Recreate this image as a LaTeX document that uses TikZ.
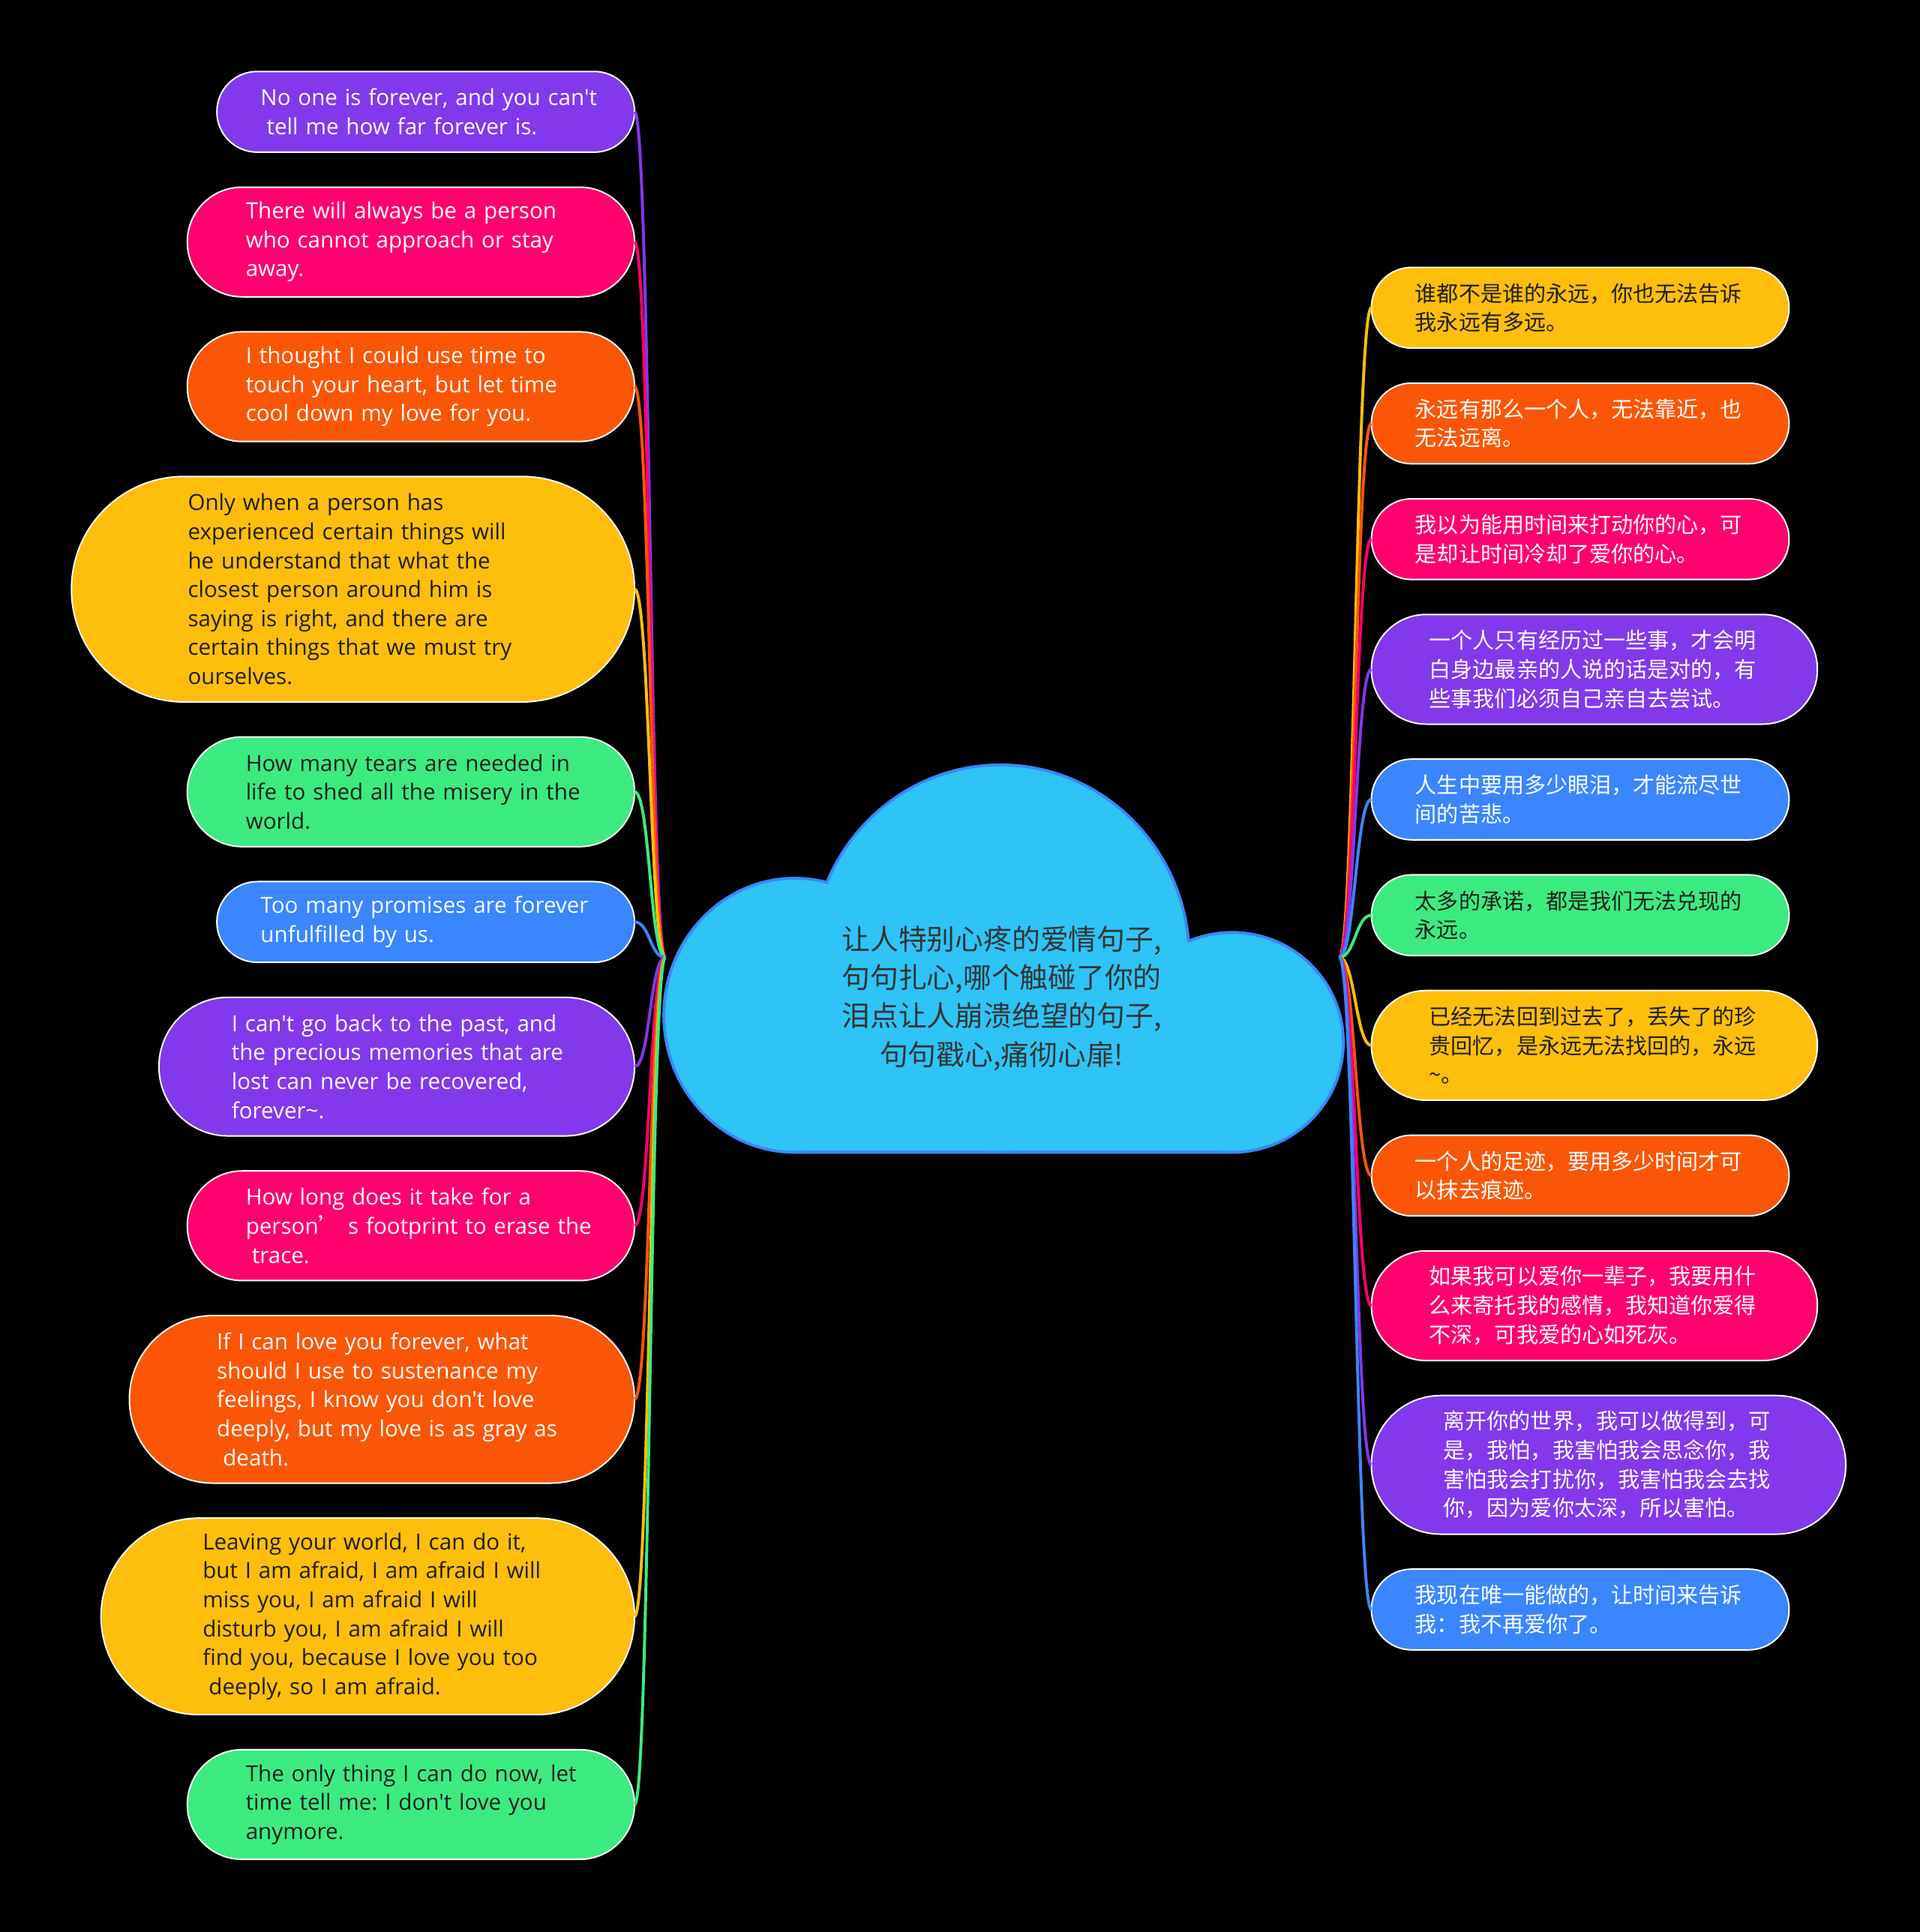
\documentclass[tikz,border=0pt]{standalone}
\usepackage{fontspec}
\setmainfont{Open Sans}[Ligatures=TeXOff]
\newfontfamily\cjk{Noto Sans CJK SC}
\usepackage{tikz}
\usetikzlibrary{positioning}

\definecolor{cpurple}{HTML}{8338EC}
\definecolor{cpink}{HTML}{FF006E}
\definecolor{corange}{HTML}{FB5607}
\definecolor{cyellow}{HTML}{FFBE0B}
\definecolor{cgreen}{HTML}{3CEB80}
\definecolor{cblue}{HTML}{3A86FF}
\definecolor{ccloud}{HTML}{2EC4F6}
\definecolor{textdark}{HTML}{1E1E1E}
\definecolor{textgray}{HTML}{333333}

\newcommand{\ind}{\hspace*{2.5pt}}
\frenchspacing

\begin{document}
\begin{tikzpicture}[x=0.5pt, y=-0.5pt,
leafnode/.style={rectangle, draw=white, line width=0.6pt, outer sep=0pt, text=white, inner xsep=2pt, inner ysep=2pt, text width=134pt, align=left, font=\fontsize{9}{11.75}\selectfont},
cnnode/.style={leafnode, font=\cjk\fontsize{8.85}{11.75}\selectfont},
rootnode/.style={align=center, text=textgray, font=\cjk\fontsize{11.5}{15.6}\selectfont},
nl/.style={minimum height={9.25pt+11.75pt*#1}, rounded corners={4.62pt+5.87pt*#1}},
dark/.style={text=textdark},
link/.style={line width=1.2pt},
]
\fill[black] (0,0) rectangle (1558,1568);

%Cloud
\draw[cblue, line width=2.4pt] (645,824) ellipse [x radius=105, y radius=110]
  (812,778) ellipse [x radius=152, y radius=156]
  (1000,846) ellipse [x radius=89, y radius=88]
  (645,934) -- (1000,934);
\fill[ccloud] (645,824) ellipse [x radius=105, y radius=110];
\fill[ccloud] (812,778) ellipse [x radius=152, y radius=156];
\fill[ccloud] (1000,846) ellipse [x radius=89, y radius=88];
\fill[ccloud] (645,824) rectangle (1000,934);

%Nodes
\node[rootnode]          (root)          at (813,810)     {让人特别心疼的爱情句子,\\句句扎心,哪个触碰了你的\\泪点让人崩溃绝望的句子,\\句句戳心,痛彻心扉!};
\coordinate (jl) at (540,777);
\coordinate (jr) at (1087,777);

\node[leafnode, fill=cpurple, nl=2, minimum width=169.5pt, anchor=north east]   (l1)   at (515,58)   {\mbox{No one is forever, and you can't}\\\mbox{\ind tell me how far forever is.}};
\node[leafnode, fill=cpink, nl=3, minimum width=181.5pt]     (l2)     [below=14.2pt of l1.south east, anchor=north east]   {\mbox{There will always be a person}\\\mbox{who cannot approach or stay}\\away.};
\node[leafnode, fill=corange, nl=3, minimum width=181.5pt]   (l3)     [below=14.2pt of l2.south east, anchor=north east]   {\mbox{I thought I could use time to}\\\mbox{touch your heart, but let time}\\\mbox{cool down my love for you.}};
\node[leafnode, dark, fill=cyellow, nl=7, minimum width=228.5pt]   (l4)     [below=14.2pt of l3.south east, anchor=north east]   {\mbox{Only when a person has}\\\mbox{experienced certain things will}\\\mbox{he understand that what the}\\\mbox{closest person around him is}\\\mbox{saying is right, and there are}\\\mbox{certain things that we must try}\\ourselves.};
\node[leafnode, dark, fill=cgreen, nl=3, minimum width=181.5pt]    (l5)     [below=14.2pt of l4.south east, anchor=north east]   {\mbox{How many tears are needed in}\\\mbox{life to shed all the misery in the}\\world.};
\node[leafnode, fill=cblue, nl=2, minimum width=169.5pt]     (l6)     [below=14.2pt of l5.south east, anchor=north east]   {\mbox{Too many promises are forever}\\\mbox{unfulfilled by us.}};
\node[leafnode, fill=cpurple, nl=4, minimum width=193pt]     (l7)     [below=14.2pt of l6.south east, anchor=north east]   {\mbox{I can't go back to the past, and}\\\mbox{the precious memories that are}\\\mbox{lost can never be recovered,}\\forever\textasciitilde.};
\node[leafnode, fill=cpink, nl=3, minimum width=181.5pt]     (l8)     [below=14.2pt of l7.south east, anchor=north east]   {\mbox{How long does it take for a}\\\mbox{person{\cjk ’} s footprint to erase the}\\\mbox{\ind trace.}};
\node[leafnode, fill=corange, nl=5, minimum width=205pt]     (l9)     [below=14.2pt of l8.south east, anchor=north east]   {\mbox{If I can love you forever, what}\\\mbox{should I use to sustenance my}\\\mbox{feelings, I know you don't love}\\\mbox{deeply, but my love is as gray as}\\\mbox{\ind death.}};
\node[leafnode, dark, fill=cyellow, nl=6, minimum width=216.5pt]   (l10)    [below=14.2pt of l9.south east, anchor=north east]   {\mbox{Leaving your world, I can do it,}\\\mbox{but I am afraid, I am afraid I will}\\\mbox{miss you, I am afraid I will}\\\mbox{disturb you, I am afraid I will}\\\mbox{find you, because I love you too}\\\mbox{\ind deeply, so I am afraid.}};
\node[leafnode, dark, fill=cgreen, nl=3, minimum width=181.5pt]    (l11)    [below=14.2pt of l10.south east, anchor=north east]  {\mbox{The only thing I can do now, let}\\\mbox{time tell me: I don't love you}\\anymore.};

\node[cnnode, dark, fill=cyellow, nl=2, minimum width=169.5pt, anchor=north west]   (r1)   at (1113,217)   {谁都不是谁的永远，你也无法告诉\\我永远有多远。};
\node[cnnode, fill=corange, nl=2, minimum width=169.5pt]   (r2)     [below=14.2pt of r1.south west, anchor=north west]   {永远有那么一个人，无法靠近，也\\无法远离。};
\node[cnnode, fill=cpink, nl=2, minimum width=169.5pt]     (r3)     [below=14.2pt of r2.south west, anchor=north west]   {我以为能用时间来打动你的心，可\\是却让时间冷却了爱你的心。};
\node[cnnode, fill=cpurple, nl=3, minimum width=181pt]     (r4)     [below=14.2pt of r3.south west, anchor=north west]   {一个人只有经历过一些事，才会明\\白身边最亲的人说的话是对的，有\\些事我们必须自己亲自去尝试。};
\node[cnnode, fill=cblue, nl=2, minimum width=169.5pt]     (r5)     [below=14.2pt of r4.south west, anchor=north west]   {人生中要用多少眼泪，才能流尽世\\间的苦悲。};
\node[cnnode, dark, fill=cgreen, nl=2, minimum width=169.5pt]    (r6)     [below=14.2pt of r5.south west, anchor=north west]   {太多的承诺，都是我们无法兑现的\\永远。};
\node[cnnode, dark, fill=cyellow, nl=3, minimum width=181pt]   (r7)     [below=14.2pt of r6.south west, anchor=north west]   {已经无法回到过去了，丢失了的珍\\贵回忆，是永远无法找回的，永远\\\textasciitilde 。};
\node[cnnode, fill=corange, nl=2, minimum width=169.5pt]   (r8)     [below=14.2pt of r7.south west, anchor=north west]   {一个人的足迹，要用多少时间才可\\以抹去痕迹。};
\node[cnnode, fill=cpink, nl=3, minimum width=181pt]       (r9)     [below=14.2pt of r8.south west, anchor=north west]   {如果我可以爱你一辈子，我要用什\\么来寄托我的感情，我知道你爱得\\不深，可我爱的心如死灰。};
\node[cnnode, fill=cpurple, nl=4, minimum width=192.5pt]   (r10)    [below=14.2pt of r9.south west, anchor=north west]   {离开你的世界，我可以做得到，可\\是，我怕，我害怕我会思念你，我\\害怕我会打扰你，我害怕我会去找\\你，因为爱你太深，所以害怕。};
\node[cnnode, fill=cblue, nl=2, minimum width=169.5pt]     (r11)    [below=14.2pt of r10.south west, anchor=north west]  {我现在唯一能做的，让时间来告诉\\我：我不再爱你了。};

%Lines
\draw[link, cpurple] (l1.east) .. controls +(12.5,0) and +(-12.5,0) .. (jl);
\draw[link, cpink] (l2.east) .. controls +(12.5,0) and +(-12.5,0) .. (jl);
\draw[link, corange] (l3.east) .. controls +(12.5,0) and +(-12.5,0) .. (jl);
\draw[link, cyellow] (l4.east) .. controls +(12.5,0) and +(-12.5,0) .. (jl);
\draw[link, cgreen] (l5.east) .. controls +(12.5,0) and +(-12.5,0) .. (jl);
\draw[link, cblue] (l6.east) .. controls +(12.5,0) and +(-12.5,0) .. (jl);
\draw[link, cpurple] (l7.east) .. controls +(12.5,0) and +(-12.5,0) .. (jl);
\draw[link, cpink] (l8.east) .. controls +(12.5,0) and +(-12.5,0) .. (jl);
\draw[link, corange] (l9.east) .. controls +(12.5,0) and +(-12.5,0) .. (jl);
\draw[link, cyellow] (l10.east) .. controls +(12.5,0) and +(-12.5,0) .. (jl);
\draw[link, cgreen] (l11.east) .. controls +(12.5,0) and +(-12.5,0) .. (jl);

\draw[link, cyellow] (jr) .. controls +(12.5,0) and +(-12.5,0) .. (r1.west);
\draw[link, corange] (jr) .. controls +(12.5,0) and +(-12.5,0) .. (r2.west);
\draw[link, cpink] (jr) .. controls +(12.5,0) and +(-12.5,0) .. (r3.west);
\draw[link, cpurple] (jr) .. controls +(12.5,0) and +(-12.5,0) .. (r4.west);
\draw[link, cblue] (jr) .. controls +(12.5,0) and +(-12.5,0) .. (r5.west);
\draw[link, cgreen] (jr) .. controls +(12.5,0) and +(-12.5,0) .. (r6.west);
\draw[link, cyellow] (jr) .. controls +(12.5,0) and +(-12.5,0) .. (r7.west);
\draw[link, corange] (jr) .. controls +(12.5,0) and +(-12.5,0) .. (r8.west);
\draw[link, cpink] (jr) .. controls +(12.5,0) and +(-12.5,0) .. (r9.west);
\draw[link, cpurple] (jr) .. controls +(12.5,0) and +(-12.5,0) .. (r10.west);
\draw[link, cblue] (jr) .. controls +(12.5,0) and +(-12.5,0) .. (r11.west);

\end{tikzpicture}
\end{document}
